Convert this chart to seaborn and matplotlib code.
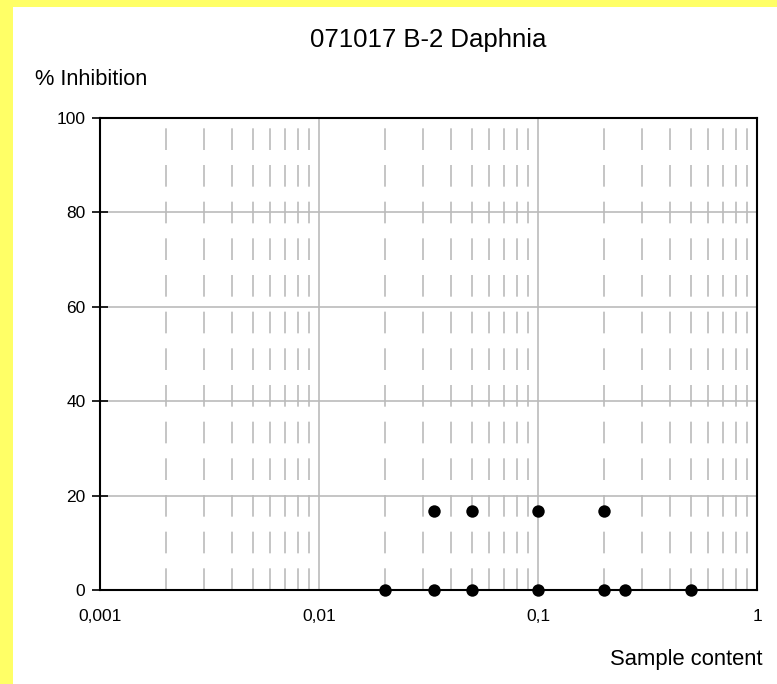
import matplotlib
matplotlib.use("Agg")
import matplotlib.pyplot as plt
from matplotlib.patches import Rectangle
from matplotlib.ticker import LogLocator, NullFormatter
import seaborn as sns
import pandas as pd

sns.set_theme(style="white")
plt.rcParams['font.family'] = ['Liberation Sans', 'DejaVu Sans']
plt.rcParams['text.color'] = 'black'

# Data
sample_content = [0.02, 1/30, 0.05, 0.1, 0.2, 0.25, 0.5, 1/30, 0.05, 0.1, 0.2]
inhibition = [0, 0, 0, 0, 0, 0, 0, 16.7, 16.7, 16.7, 16.7]
x_ticks = [0.001, 0.01, 0.1, 1]
x_tick_labels = ["0,001", "0,01", "0,1", "1"]
y_ticks = [0, 20, 40, 60, 80, 100]

df = pd.DataFrame({"x": sample_content, "y": inhibition})

W, H = 777, 684
L, R, T, B = 100, 757, 118, 590
fig = plt.figure(figsize=(W / 100, H / 100), dpi=100, facecolor="#FFFF66")
fig.patches.append(Rectangle((13 / W, 0), 1 - 13 / W, 1 - 7 / H,
                             transform=fig.transFigure, facecolor="white",
                             edgecolor="none", zorder=-10))
ax = fig.add_axes([L / W, 1 - B / H, (R - L) / W, (B - T) / H])
ax.set_xscale("log")
ax.set_xlim(0.001, 1)
ax.set_ylim(0, 100)

ax.set_xticks(x_ticks)
ax.set_xticklabels(x_tick_labels)
ax.xaxis.set_minor_locator(LogLocator(base=10, subs=range(2, 10)))
ax.xaxis.set_minor_formatter(NullFormatter())
ax.set_yticks(y_ticks)
ax.set_yticklabels([str(v) for v in y_ticks])
ax.grid(True, which="major", axis="both", color="#BBBBBB", linewidth=1.2, linestyle="-")
ax.grid(True, which="minor", axis="x", color="#BBBBBB", linewidth=1.2, linestyle=(0, (13, 9.0)))
ax.set_axisbelow(True)

sns.scatterplot(data=df, x="x", y="y", ax=ax, color="black", s=80,
                edgecolor="black", linewidth=0, zorder=5, clip_on=False, legend=False)

for sp in ax.spines.values():
    sp.set_visible(True)
    sp.set_color("black")
    sp.set_linewidth(1.5)

ax.tick_params(axis="y", which="major", direction="inout", length=11, width=1.2, color="black",
               labelsize=12.5, labelcolor="black", pad=5, left=True)
ax.tick_params(axis="x", which="both", length=0, labelsize=12.5, labelcolor="black", pad=14)
ax.set_xlabel("")
ax.set_ylabel("")

fig.text((L + R) / 2 / W, 1 - 47 / H, "071017 B-2 Daphnia", ha="center", va="baseline",
         fontsize=18.5, color="black")
fig.text(35 / W, 1 - 85 / H, "% Inhibition", ha="left", va="baseline", fontsize=15.7, color="black")
fig.text(763 / W, 1 - 665 / H, "Sample content", ha="right", va="baseline", fontsize=15.8, color="black")

fig.savefig("out.png", dpi=100, facecolor=fig.get_facecolor())
